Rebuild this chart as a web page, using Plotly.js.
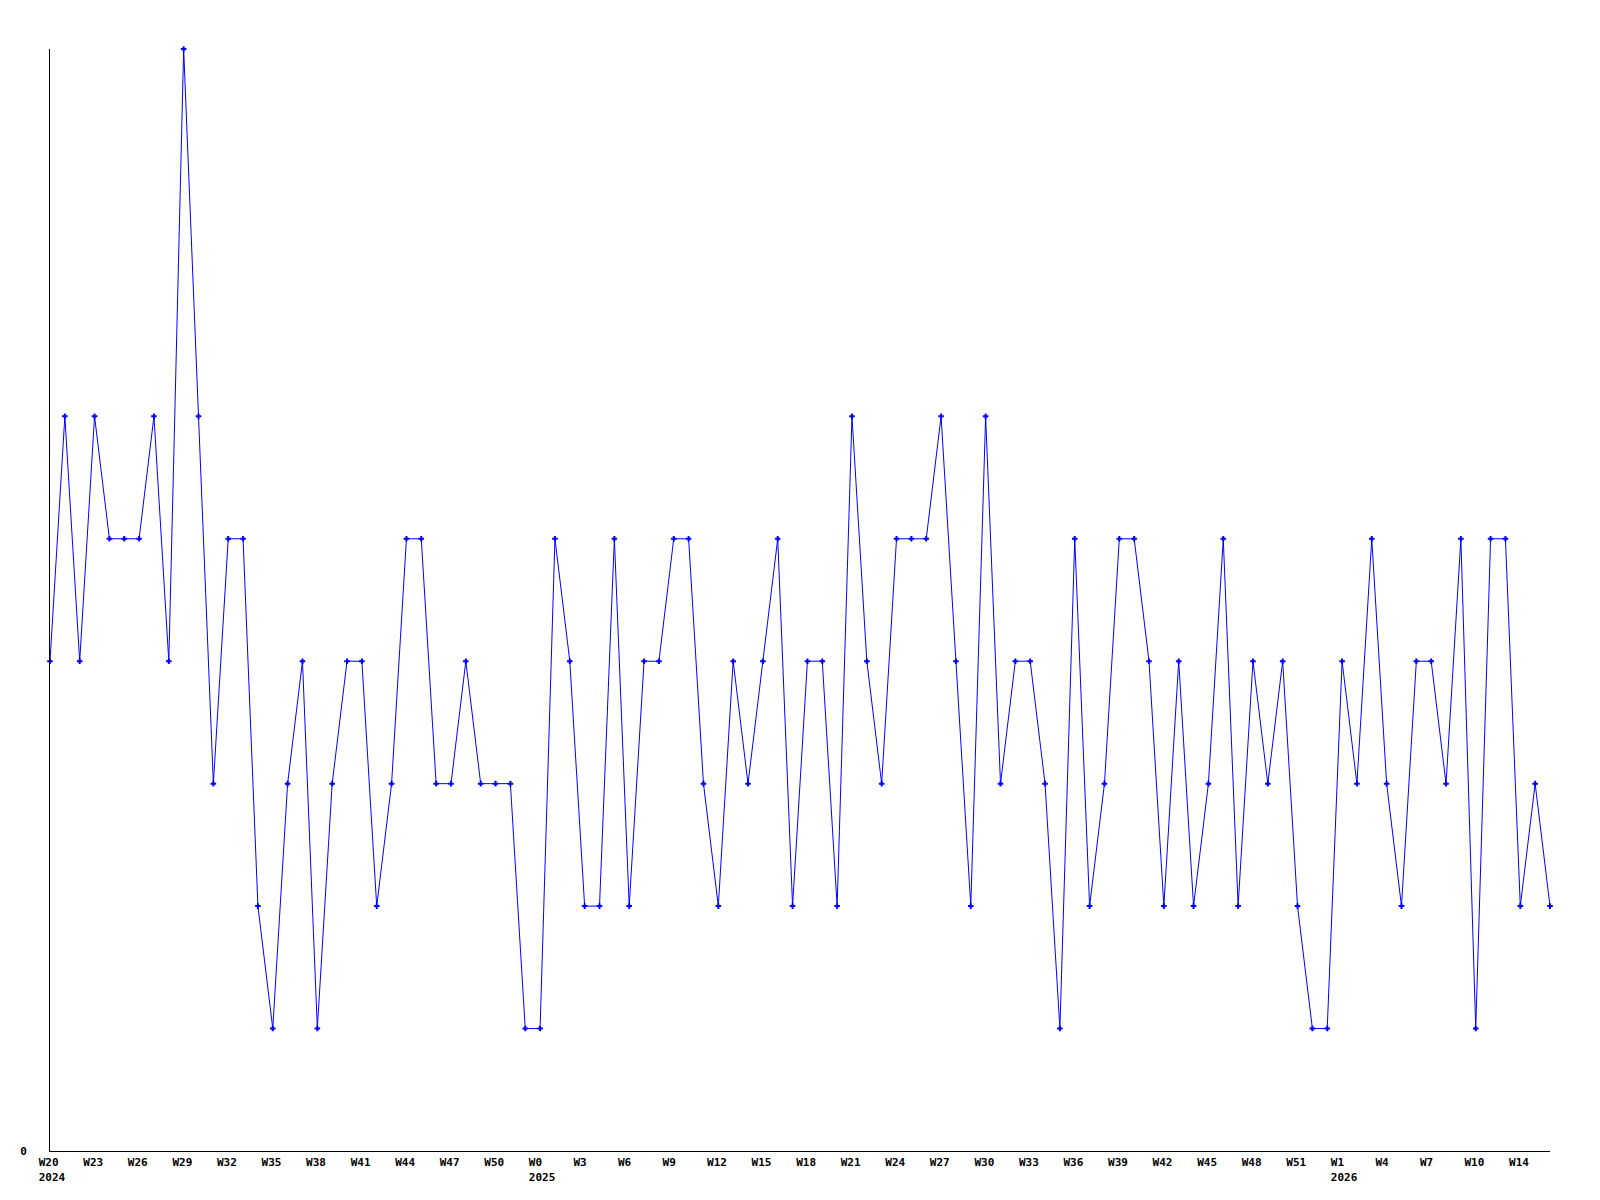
<!DOCTYPE html>
<html>
<head>
<meta charset="utf-8">
<script src="https://cdn.plot.ly/plotly-3.0.1.min.js"></script>
<style>
  html, body { margin: 0; padding: 0; background: #ffffff; }
  #chart { width: 1600px; height: 1200px; }
</style>
</head>
<body>
<div id="chart"></div>
<script>
// Weekly counts, one per week from 2024 W20 onward
const values = [
  4, 6, 4, 6, 5, 5, 5, 6, 4, 9,
  6, 3, 5, 5, 2, 1, 3, 4, 1, 3,
  4, 4, 2, 3, 5, 5, 3, 3, 4, 3,
  3, 3, 1, 1, 5, 4, 2, 2, 5, 2,
  4, 4, 5, 5, 3, 2, 4, 3, 4, 5,
  2, 4, 4, 2, 6, 4, 3, 5, 5, 5,
  6, 4, 2, 6, 3, 4, 4, 3, 1, 5,
  2, 3, 5, 5, 4, 2, 4, 2, 3, 5,
  2, 4, 3, 4, 2, 1, 1, 4, 3, 5,
  3, 2, 4, 4, 3, 5, 1, 5, 5, 2,
  3, 2
];

// Tick labels (one every third week) and the year shown under the first tick of each year
const tickWeeks = [
  "W20", "W23", "W26", "W29", "W32", "W35", "W38", "W41", "W44", "W47", "W50",
  "W0", "W3", "W6", "W9", "W12", "W15", "W18", "W21", "W24", "W27", "W30",
  "W33", "W36", "W39", "W42", "W45", "W48", "W51",
  "W1", "W4", "W7", "W10", "W14"
];
const tickYears = [
  "2024", "", "", "", "", "", "", "", "", "", "",
  "2025", "", "", "", "", "", "", "", "", "", "",
  "", "", "", "", "", "", "",
  "2026", "", "", "", ""
];
const tickStep = 3;

const NB = "\u00a0";
function pad4(s) { while (s.length < 4) s += NB; return s; }

const xs = values.map((v, i) => i);
const tickvals = tickWeeks.map((w, i) => i * tickStep);
const ticktext = tickWeeks.map((w, i) =>
  tickYears[i] ? pad4(w) + "<br>" + pad4(tickYears[i]) : pad4(w));

const font = { family: "DejaVu Sans Mono", size: 11, color: "#000000", weight: "bold" };

const trace = {
  type: "scatter",
  mode: "lines+markers",
  x: xs,
  y: values,
  line: { color: "#0000ff", width: 1 },
  marker: { symbol: "cross-thin-open", size: 4, color: "#0000ff",
            line: { color: "#0000ff", width: 2 } },
  cliponaxis: false,
  hoverinfo: "y"
};

const layout = {
  width: 1600,
  height: 1200,
  paper_bgcolor: "#ffffff",
  plot_bgcolor: "#ffffff",
  showlegend: false,
  margin: { l: 50, r: 50, t: 49, b: 49, pad: 0 },
  font: font,
  xaxis: {
    range: [0, values.length - 1],
    showgrid: false,
    zeroline: false,
    showline: true,
    linecolor: "#000000",
    linewidth: 1,
    ticks: "",
    tickmode: "array",
    tickvals: tickvals,
    ticktext: ticktext,
    tickangle: 0,
    ticklabelshift: 2,
    ticklabelstandoff: 1,
    tickfont: font
  },
  yaxis: {
    range: [0, 9],
    showgrid: false,
    zeroline: false,
    showline: true,
    linecolor: "#000000",
    linewidth: 1,
    ticks: "",
    tickmode: "array",
    tickvals: [0],
    ticktext: ["0"],
    ticklabelstandoff: 20,
    tickfont: font
  }
};

Plotly.newPlot("chart", [trace], layout, { displayModeBar: false, staticPlot: true });
</script>
</body>
</html>
